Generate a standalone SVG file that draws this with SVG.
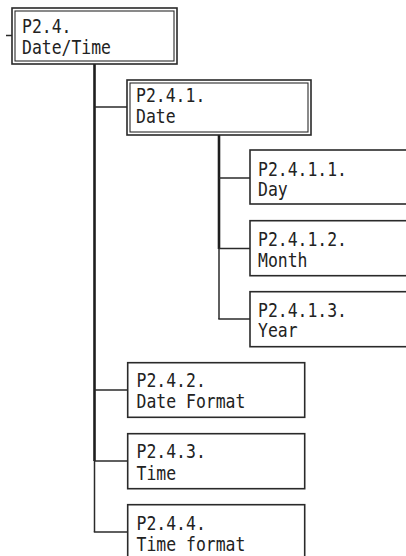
<svg xmlns="http://www.w3.org/2000/svg" width="406" height="556" viewBox="0 0 406 556">
<style>
  .box { fill: #fff; stroke: #2a2a2a; stroke-width: 1.6; }
  .inner { fill: none; stroke: #2a2a2a; stroke-width: 1.1; }
  .lbl { font-family: "DejaVu Sans Mono", "Liberation Mono", monospace; font-size: 19px; fill: #222; }
  .thick { stroke: #1e1e1e; stroke-width: 2.6; fill: none; }
  .thin { stroke: #2a2a2a; stroke-width: 1.5; fill: none; }
</style>
<rect width="406" height="556" fill="#fff"/>
<g id="connectors">
  <line class="thin" x1="6" y1="35.5" x2="12" y2="35.5"/>
  <line class="thick" x1="94.5" y1="64" x2="94.5" y2="461"/>
  <line class="thin" x1="94.5" y1="460" x2="94.5" y2="532"/>
  <line class="thin" x1="94.5" y1="107" x2="127" y2="107"/>
  <line class="thin" x1="94.5" y1="390" x2="127.7" y2="390"/>
  <line class="thin" x1="94.5" y1="461" x2="127.7" y2="461"/>
  <line class="thin" x1="93.8" y1="532" x2="127.7" y2="532"/>
  <line class="thick" x1="219" y1="135" x2="219" y2="249"/>
  <line class="thin" x1="219" y1="248" x2="219" y2="319"/>
  <line class="thin" x1="219" y1="178" x2="250" y2="178"/>
  <line class="thin" x1="219" y1="248.5" x2="250" y2="248.5"/>
  <line class="thin" x1="218.3" y1="319" x2="250" y2="319"/>
</g>
<g id="n-p24">
  <rect class="box" x="12" y="8" width="165" height="56"/>
  <rect class="inner" x="15" y="11" width="159" height="50"/>
  <text class="lbl" x="22" y="33.3" textLength="49.5" lengthAdjust="spacingAndGlyphs">P2.4.</text>
  <text class="lbl" x="22" y="54" textLength="89" lengthAdjust="spacingAndGlyphs">Date/Time</text>
</g>
<g id="n-p241">
  <rect class="box" x="127" y="80" width="184" height="55"/>
  <rect class="inner" x="130" y="83" width="178" height="49"/>
  <text class="lbl" x="136" y="102" textLength="69.3" lengthAdjust="spacingAndGlyphs">P2.4.1.</text>
  <text class="lbl" x="136" y="122.7" textLength="39.6" lengthAdjust="spacingAndGlyphs">Date</text>
</g>
<g id="n-p2411">
  <rect class="box" x="250" y="150" width="170" height="54"/>
  <text class="lbl" x="258" y="175.5" textLength="89" lengthAdjust="spacingAndGlyphs">P2.4.1.1.</text>
  <text class="lbl" x="258" y="196" textLength="29.7" lengthAdjust="spacingAndGlyphs">Day</text>
</g>
<g id="n-p2412">
  <rect class="box" x="250" y="220.7" width="170" height="55"/>
  <text class="lbl" x="258" y="246" textLength="89" lengthAdjust="spacingAndGlyphs">P2.4.1.2.</text>
  <text class="lbl" x="258" y="266.5" textLength="49.5" lengthAdjust="spacingAndGlyphs">Month</text>
</g>
<g id="n-p2413">
  <rect class="box" x="250" y="291.7" width="170" height="55"/>
  <text class="lbl" x="258" y="316.7" textLength="89" lengthAdjust="spacingAndGlyphs">P2.4.1.3.</text>
  <text class="lbl" x="258" y="337" textLength="39.6" lengthAdjust="spacingAndGlyphs">Year</text>
</g>
<g id="n-p242">
  <rect class="box" x="127.7" y="362.7" width="177" height="54.6"/>
  <text class="lbl" x="136.5" y="387.3" textLength="69.3" lengthAdjust="spacingAndGlyphs">P2.4.2.</text>
  <text class="lbl" x="136.5" y="407.5" textLength="108.9" lengthAdjust="spacingAndGlyphs">Date Format</text>
</g>
<g id="n-p243">
  <rect class="box" x="127.7" y="433.7" width="177" height="55"/>
  <text class="lbl" x="136.5" y="458.3" textLength="69.3" lengthAdjust="spacingAndGlyphs">P2.4.3.</text>
  <text class="lbl" x="136.5" y="479.5" textLength="39.6" lengthAdjust="spacingAndGlyphs">Time</text>
</g>
<g id="n-p244">
  <rect class="box" x="127.7" y="504.7" width="177" height="70"/>
  <text class="lbl" x="136.5" y="530" textLength="69.3" lengthAdjust="spacingAndGlyphs">P2.4.4.</text>
  <text class="lbl" x="136.5" y="550.5" textLength="108.9" lengthAdjust="spacingAndGlyphs">Time format</text>
</g>
</svg>
